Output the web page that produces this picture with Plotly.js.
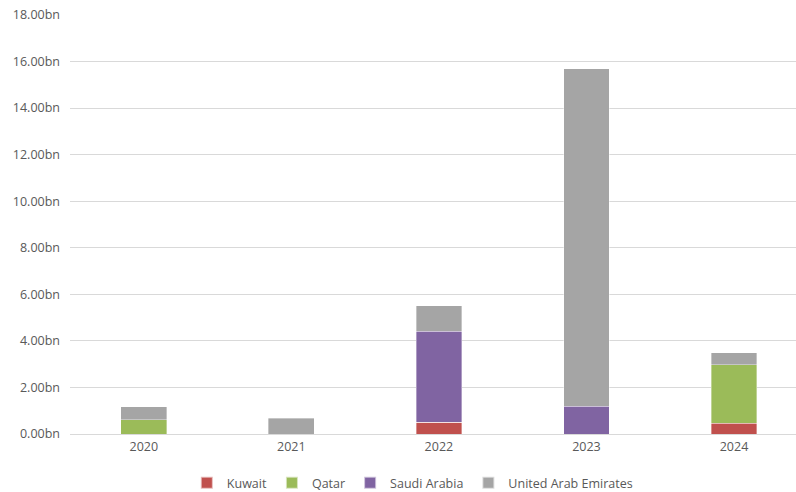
<!DOCTYPE html>
<html>
<head>
<meta charset="utf-8">
<script src="https://cdn.plot.ly/plotly-3.0.1.min.js"></script>
<style>html,body{margin:0;padding:0;background:#fff;}#chart{width:796px;height:492px;}</style>
</head>
<body>
<div id="chart"></div>
<script>
const years = ["2020", "2021", "2022", "2023", "2024"];
const kuwait = [0, 0, 0.50, 0, 0.47];
const qatar = [0.62, 0, 0, 0, 2.50];
const saudiArabia = [0, 0, 3.92, 1.20, 0];
const uae = [0.55, 0.68, 1.10, 14.50, 0.52];
const seriesNames = ["Kuwait", "Qatar", "Saudi Arabia", "United Arab Emirates"];
const seriesColors = ["#C0504D", "#9BBB59", "#8064A2", "#A5A5A5"];
const yTicks = [0, 2, 4, 6, 8, 10, 12, 14, 16, 18];
const yTickText = yTicks.map(v => v.toFixed(2) + "bn");

const seriesValues = [kuwait, qatar, saudiArabia, uae];
const traces = seriesValues.map((vals, i) => ({
  type: "bar",
  name: seriesNames[i],
  x: years,
  y: vals,
  marker: { color: seriesColors[i], line: { width: 0.6, color: "rgba(255,255,255,0.6)" } },
  hoverinfo: "x+y+name"
}));

const layout = {
  width: 796,
  height: 492,
  barmode: "stack",
  bargap: 0.69,
  paper_bgcolor: "#ffffff",
  plot_bgcolor: "#ffffff",
  margin: { l: 70, r: 0, t: 15, b: 58, autoexpand: false },
  font: { family: "Open Sans, Liberation Sans, sans-serif", size: 12.5, color: "#595959" },
  xaxis: {
    type: "category",
    range: [-0.5, 4.42],
    showgrid: false,
    showline: false,
    zeroline: false,
    ticks: "",
    tickfont: { size: 12.5, color: "#595959" },
    ticklabelstandoff: 3
  },
  yaxis: {
    range: [0, 18],
    tickvals: yTicks,
    ticktext: yTickText,
    showgrid: true,
    gridcolor: "#D9D9D9",
    gridwidth: 1,
    zeroline: true,
    zerolinecolor: "#D9D9D9",
    zerolinewidth: 1,
    showline: false,
    ticks: "",
    tickfont: { size: 12.5, color: "#595959" },
    ticklabelstandoff: 9
  },
  showlegend: true,
  legend: {
    orientation: "h",
    xref: "container",
    yref: "container",
    x: 0.518,
    xanchor: "center",
    y: 0.018,
    yanchor: "middle",
    font: { size: 12.5, color: "#595959" },
    traceorder: "normal",
    itemwidth: 30,
    itemsizing: "constant"
  }
};

Plotly.newPlot("chart", traces, layout, { displayModeBar: false, staticPlot: true });
</script>
</body>
</html>
